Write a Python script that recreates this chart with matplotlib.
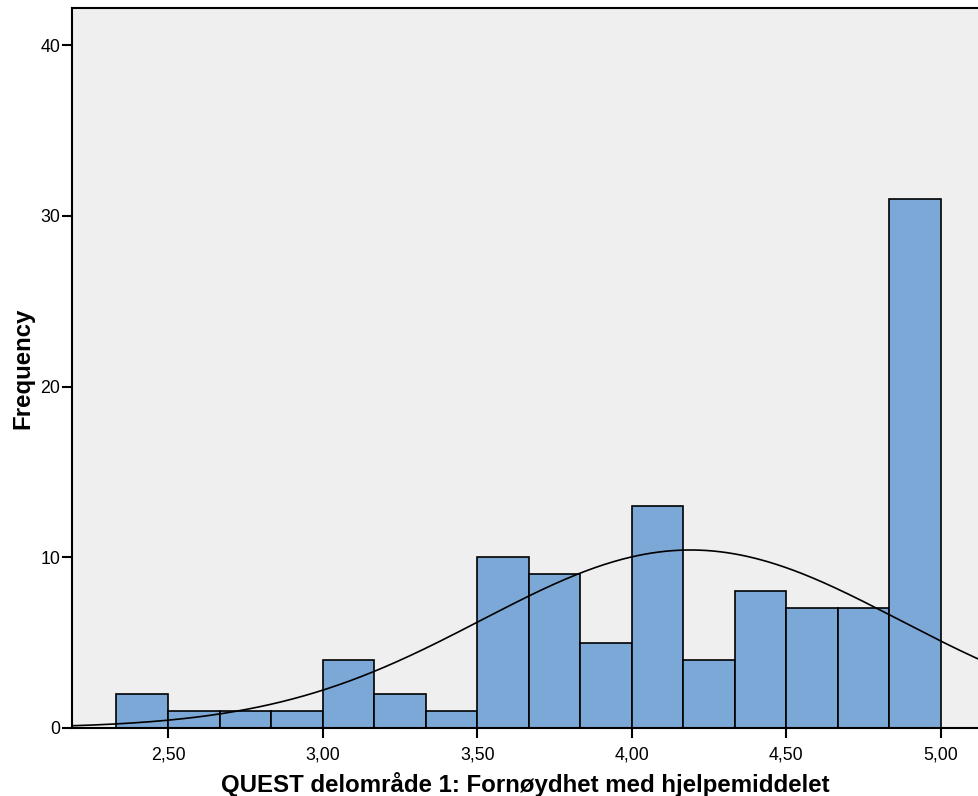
import numpy as np
import matplotlib

matplotlib.use("Agg")
import matplotlib.pyplot as plt

plt.rcParams["font.family"] = ["Liberation Sans", "DejaVu Sans"]

# histogram bins (width 1/6) and counts
bin_edges = [2.3333, 2.5, 2.6667, 2.8333, 3.0, 3.1667, 3.3333, 3.5, 3.6667,
             3.8333, 4.0, 4.1667, 4.3333, 4.5, 4.6667, 4.8333, 5.0]
counts = [2, 1, 1, 1, 4, 2, 1, 10, 9, 5, 13, 4, 8, 7, 7, 31]

# normal curve summary stats
mean = 4.19
std_dev = 0.676

x_ticks = [2.5, 3.0, 3.5, 4.0, 4.5, 5.0]
x_tick_labels = ["2,50", "3,00", "3,50", "4,00", "4,50", "5,00"]
y_ticks = [0, 10, 20, 30, 40]

fig = plt.figure(figsize=(9.79, 7.96), dpi=100)
ax = fig.add_axes([72 / 979, 1 - 728 / 796, 1 - 72 / 979, (728 - 8) / 796])
ax.set_facecolor("#EFEFEF")

edges = np.array(bin_edges)
widths = np.diff(edges)
ax.bar(edges[:-1], counts, width=widths, align="edge", color="#7BA8D6",
       edgecolor="black", linewidth=1.2, zorder=2)

n = sum(counts)
bw = widths.mean()
xs = np.linspace(2.18, 5.13, 400)
ys = n * bw / (std_dev * np.sqrt(2 * np.pi)) * np.exp(-0.5 * ((xs - mean) / std_dev) ** 2)
ax.plot(xs, ys, color="black", linewidth=1.2, zorder=3)

ax.set_xlim(2.1895, 5.123)
ax.set_ylim(0, 42.17)
ax.set_xticks(x_ticks)
ax.set_xticklabels(x_tick_labels)
ax.set_yticks(y_ticks)
ax.tick_params(axis="both", direction="out", length=7.5, width=1.5, labelsize=12.8)
ax.tick_params(axis="x", pad=5.5)
ax.tick_params(axis="y", pad=1)

for side in ("left", "top", "bottom"):
    ax.spines[side].set_linewidth(1.5)
ax.spines["right"].set_visible(False)

ax.set_xlabel("QUEST delområde 1: Fornøydhet med hjelpemiddelet",
              fontsize=17.3, fontweight="bold", labelpad=6.5)
ax.set_ylabel("Frequency", fontsize=17.3, fontweight="bold", labelpad=4)

fig.savefig("out.png", dpi=100)
